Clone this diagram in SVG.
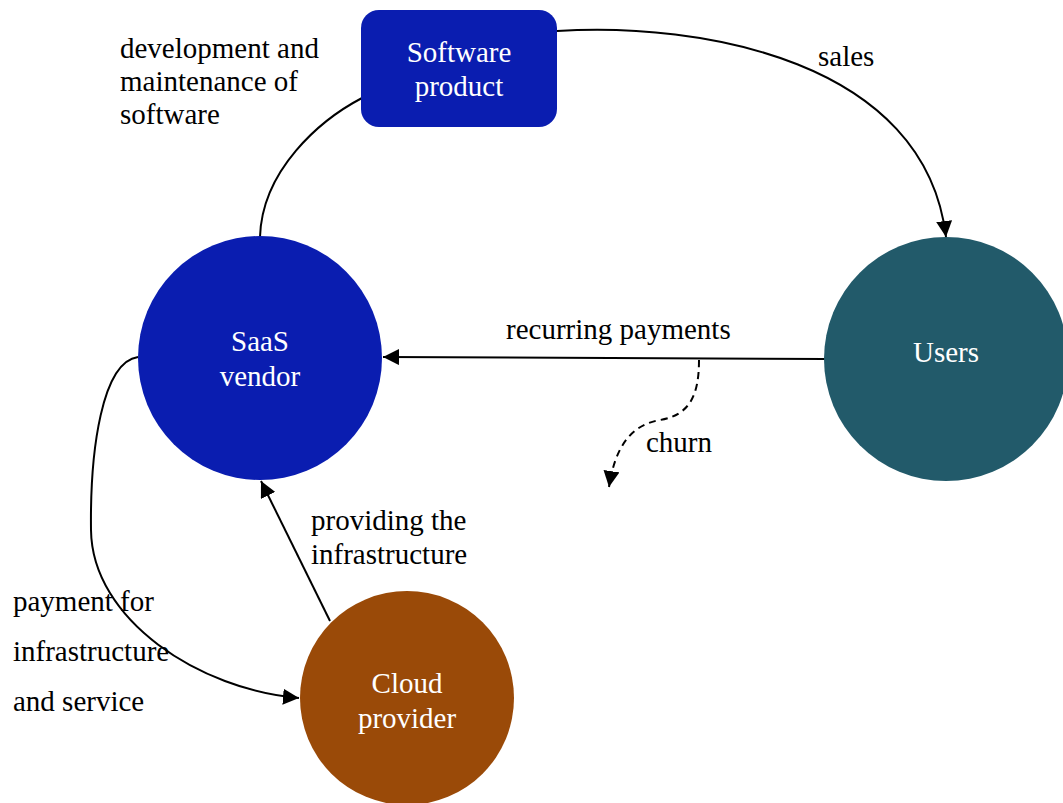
<svg xmlns="http://www.w3.org/2000/svg" width="1063" height="803" viewBox="0 0 1063 803">
  <style>
    .lbl { font-family: "Liberation Serif", "DejaVu Serif", serif; font-size: 29px; fill: #000; }
    .ntx { font-family: "Liberation Serif", "DejaVu Serif", serif; font-size: 29px; fill: #fff; text-anchor: middle; }
    .edge { fill: none; stroke: #000; stroke-width: 2; }
    .dash { stroke-dasharray: 7 5; }
  </style>
  <defs>
    <marker id="arrowL" viewBox="0 0 10 10" refX="10" refY="5" markerWidth="16" markerHeight="16" markerUnits="userSpaceOnUse" orient="auto">
      <path d="M0,0 L10,5 L0,10 Z" fill="#000"/>
    </marker>
  </defs>
  <rect width="1063" height="803" fill="#fff"/>

  <g id="connectors">
    <!-- development and maintenance -->
    <path class="edge" d="M260,237 C262,170 320,120 362,98"/>
    <!-- sales -->
    <path class="edge" d="M557,31 C700,22 925,60 946,237" marker-end="url(#arrowL)"/>
    <!-- recurring payments -->
    <path class="edge" d="M825,359 L383,357" marker-end="url(#arrowL)"/>
    <!-- churn -->
    <path class="edge dash" d="M699,360 C699,395 690,415 660,420 C630,425 615,448 609,487" marker-end="url(#arrowL)"/>
    <!-- providing the infrastructure -->
    <path class="edge" d="M330,621 L261,481" marker-end="url(#arrowL)"/>
    <!-- payment for infrastructure and service -->
    <path class="edge" d="M138,357 C102,362 90,450 91,530 C92,620 200,690 299,698" marker-end="url(#arrowL)"/>
  </g>

  <g id="software-product">
    <rect x="361" y="10" width="196" height="117" rx="18" fill="#0A1DB0"/>
    <text class="ntx" x="459" y="62">Software</text>
    <text class="ntx" x="459" y="96">product</text>
  </g>

  <g id="saas-vendor">
    <circle cx="260" cy="358" r="122" fill="#0A1DB0"/>
    <text class="ntx" x="260" y="351">SaaS</text>
    <text class="ntx" x="260" y="386">vendor</text>
  </g>

  <g id="users">
    <circle cx="946" cy="359" r="122" fill="#225A6A"/>
    <text class="ntx" x="946" y="362">Users</text>
  </g>

  <g id="cloud-provider">
    <circle cx="407" cy="698" r="107" fill="#9A4A08"/>
    <text class="ntx" x="407" y="693">Cloud</text>
    <text class="ntx" x="407" y="728">provider</text>
  </g>

  <g id="labels">
    <text class="lbl" x="120" y="58">development and</text>
    <text class="lbl" x="120" y="91">maintenance of</text>
    <text class="lbl" x="120" y="124">software</text>
    <text class="lbl" x="818" y="66">sales</text>
    <text class="lbl" x="506" y="339">recurring payments</text>
    <text class="lbl" x="646" y="452">churn</text>
    <text class="lbl" x="311" y="530">providing the</text>
    <text class="lbl" x="311" y="564">infrastructure</text>
    <text class="lbl" x="13" y="611">payment for</text>
    <text class="lbl" x="13" y="661">infrastructure</text>
    <text class="lbl" x="13" y="711">and service</text>
  </g>
</svg>
